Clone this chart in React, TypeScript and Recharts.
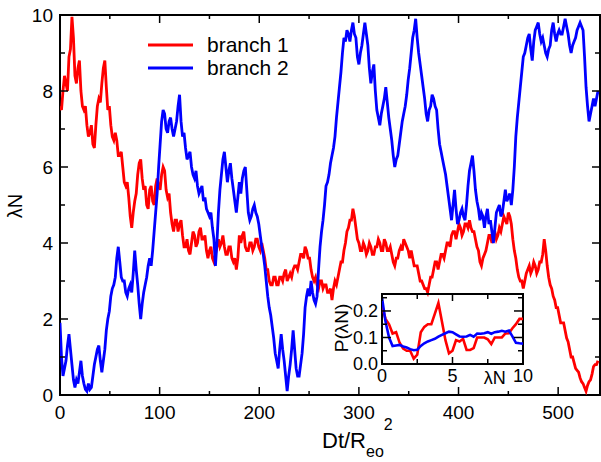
import React from 'react';
import { LineChart, Line, XAxis, YAxis, ReferenceArea, Legend } from 'recharts';

const FONT = '"Liberation Sans", Arial, Helvetica, sans-serif';

// Main panel: time in units of R_eo^2 / D (samples on the grid points)
const time = [
  0, 3, 6, 9, 12, 15, 18, 21, 24, 27, 30, 33, 36, 39, 42, 45, 48, 51, 54, 57,
  60, 63, 66, 69, 72, 75, 78, 81, 84, 87, 90, 93, 96, 99, 102, 105, 108, 111, 114, 117,
  120, 123, 126, 129, 132, 135, 138, 141, 144, 147, 150, 153, 156, 159, 162, 165, 168, 171, 174, 177,
  180, 183, 186, 189, 192, 195, 198, 201, 204, 207, 210, 213, 216, 219, 222, 225, 228, 231, 234, 237,
  240, 243, 246, 249, 252, 255, 258, 261, 264, 267, 270, 273, 276, 279, 282, 285, 288, 291, 294, 297,
  300, 303, 306, 309, 312, 315, 318, 321, 324, 327, 330, 333, 336, 339, 342, 345, 348, 351, 354, 357,
  360, 363, 366, 369, 372, 375, 378, 381, 384, 387, 390, 393, 396, 399, 402, 405, 408, 411, 414, 417,
  420, 423, 426, 429, 432, 435, 438, 441, 444, 447, 450, 453, 456, 459, 462, 465, 468, 471, 474, 477,
  480, 483, 486, 489, 492, 495, 498, 501, 504, 507, 510, 513, 516, 519, 522, 525, 528, 531, 534, 537,
  540,
];

const branch1 = [
  7.6, 8.0, 8.2, 8.9, 9.95, 8.4, 8.6, 8.0, 7.5, 7.1, 6.9, 6.6, 7.1, 7.8, 8.2, 8.8, 7.5, 7.1, 6.7, 6.7,
  6.3, 6.0, 5.5, 5.2, 4.4, 5.1, 5.8, 6.2, 5.4, 5.0, 5.4, 5.1, 5.5, 5.5, 5.8, 5.9, 5.2, 4.8, 4.3, 4.6,
  4.5, 4.2, 3.9, 3.8, 4.0, 4.2, 4.0, 4.4, 4.1, 3.8, 3.8, 3.6, 3.7, 4.1, 4.0, 3.9, 3.7, 3.9, 3.5, 3.3,
  4.2, 4.2, 3.9, 3.8, 4.0, 3.9, 4.1, 3.8, 3.8, 3.3, 3.0, 2.9, 3.1, 2.9, 3.1, 3.2, 3.0, 3.2, 3.3, 3.4,
  3.5, 3.7, 3.9, 3.6, 3.3, 3.0, 2.9, 3.0, 2.8, 2.9, 2.7, 2.5, 3.0, 3.1, 3.5, 3.8, 4.3, 4.6, 4.9, 4.4,
  4.0, 3.8, 3.9, 3.8, 3.9, 3.7, 3.9, 4.0, 3.8, 4.0, 3.8, 3.7, 3.4, 3.6, 3.9, 4.1, 3.9, 3.6, 3.6, 3.4,
  3.2, 3.0, 2.8, 2.7, 3.1, 3.3, 3.5, 3.5, 3.7, 3.8, 4.0, 4.2, 4.3, 4.3, 4.4, 4.3, 4.5, 4.6, 4.3, 4.1,
  3.8, 3.4, 3.7, 4.0, 4.2, 4.2, 4.1, 4.4, 4.5, 4.6, 4.8, 4.5, 3.8, 3.3, 3.0, 2.8, 3.2, 3.4, 3.3, 3.4,
  3.3, 3.5, 4.1, 3.4, 2.9, 2.6, 2.3, 2.1, 1.9, 1.7, 1.4, 1.0, 0.85, 0.65, 0.45, 0.3, 0.1, 0.35, 0.55, 0.8,
  0.9,
];

const branch2 = [
  1.9, 0.5, 0.9, 1.6, 0.8, 0.2, 0.3, 0.9, 0.3, 0.1, 0.15, 0.5, 1.0, 1.3, 0.6, 1.2, 2.0, 2.6, 2.9, 3.6,
  3.5, 3.0, 2.7, 2.8, 2.7, 3.8, 2.9, 2.0, 2.7, 3.1, 3.6, 3.8, 4.8, 6.0, 7.2, 7.4, 6.9, 7.3, 6.8, 7.2,
  7.9, 6.8, 6.5, 6.3, 6.0, 5.7, 5.5, 5.4, 5.1, 4.9, 4.7, 4.4, 3.4, 4.8, 5.8, 6.4, 5.6, 6.1, 5.4, 4.8,
  5.6, 5.7, 6.0, 4.8, 4.7, 5.0, 4.7, 4.2, 3.7, 3.0, 2.3, 1.8, 1.1, 0.7, 1.6, 0.9, 0.1, 0.8, 1.7, 0.7,
  0.5, 1.1, 2.3, 2.8, 3.0, 2.5, 2.6, 3.9, 4.6, 5.5, 5.8, 6.3, 6.8, 7.7, 8.5, 9.4, 9.6, 9.3, 9.8, 9.4,
  8.7, 9.2, 9.8, 9.2, 8.2, 8.7, 7.5, 7.1, 7.6, 8.1, 7.3, 6.7, 6.0, 6.3, 6.9, 7.4, 7.9, 8.6, 9.4, 9.9,
  9.0, 8.4, 7.8, 7.2, 7.6, 7.8, 7.5, 6.6, 6.2, 5.8, 5.2, 4.6, 5.4, 4.5, 4.8, 4.7, 5.0, 5.9, 6.3, 5.4,
  4.9, 4.8, 4.4, 4.9, 4.6, 4.0, 4.8, 5.0, 4.8, 5.4, 5.2, 5.0, 6.0, 7.3, 8.1, 8.9, 9.2, 9.5, 8.8, 9.6,
  9.8, 9.3, 9.2, 8.9, 9.2, 9.8, 9.3, 9.6, 9.5, 9.9, 9.5, 9.0, 9.3, 9.6, 9.8, 9.6, 8.1, 7.2, 7.6, 7.6,
  8.0,
];

// Samples halfway between the grid points (the fast fluctuations)
const timeMid = [
  1.5, 4.5, 7.5, 10.5, 13.5, 16.5, 19.5, 22.5, 25.5, 28.5, 31.5, 34.5, 37.5, 40.5, 43.5, 46.5, 49.5, 52.5, 55.5, 58.5,
  61.5, 64.5, 67.5, 70.5, 73.5, 76.5, 79.5, 82.5, 85.5, 88.5, 91.5, 94.5, 97.5, 100.5, 103.5, 106.5, 109.5, 112.5, 115.5, 118.5,
  121.5, 124.5, 127.5, 130.5, 133.5, 136.5, 139.5, 142.5, 145.5, 148.5, 151.5, 154.5, 157.5, 160.5, 163.5, 166.5, 169.5, 172.5, 175.5, 178.5,
  181.5, 184.5, 187.5, 190.5, 193.5, 196.5, 199.5, 202.5, 205.5, 208.5, 211.5, 214.5, 217.5, 220.5, 223.5, 226.5, 229.5, 232.5, 235.5, 238.5,
  241.5, 244.5, 247.5, 250.5, 253.5, 256.5, 259.5, 262.5, 265.5, 268.5, 271.5, 274.5, 277.5, 280.5, 283.5, 286.5, 289.5, 292.5, 295.5, 298.5,
  301.5, 304.5, 307.5, 310.5, 313.5, 316.5, 319.5, 322.5, 325.5, 328.5, 331.5, 334.5, 337.5, 340.5, 343.5, 346.5, 349.5, 352.5, 355.5, 358.5,
  361.5, 364.5, 367.5, 370.5, 373.5, 376.5, 379.5, 382.5, 385.5, 388.5, 391.5, 394.5, 397.5, 400.5, 403.5, 406.5, 409.5, 412.5, 415.5, 418.5,
  421.5, 424.5, 427.5, 430.5, 433.5, 436.5, 439.5, 442.5, 445.5, 448.5, 451.5, 454.5, 457.5, 460.5, 463.5, 466.5, 469.5, 472.5, 475.5, 478.5,
  481.5, 484.5, 487.5, 490.5, 493.5, 496.5, 499.5, 502.5, 505.5, 508.5, 511.5, 514.5, 517.5, 520.5, 523.5, 526.5, 529.5, 532.5, 535.5, 538.5,
];

const branch1Mid = [
  7.5, 8.4, 8.0, 9.1, 9.4, 8.2, 8.8, 7.6, 7.6, 6.8, 7.1, 6.5, 7.6, 7.7, 8.6, 8.1, 7.6, 6.8, 6.9, 6.3,
  6.4, 5.6, 5.6, 4.7, 4.8, 5.3, 6.1, 5.7, 5.5, 4.9, 5.5, 5.0, 5.7, 5.4, 6.0, 5.4, 5.3, 4.5, 4.6, 4.3,
  4.6, 3.9, 4.1, 3.7, 4.3, 3.9, 4.3, 4.1, 4.2, 3.6, 3.9, 3.5, 3.9, 3.9, 4.2, 3.7, 3.9, 3.6, 3.6, 3.6,
  4.0, 4.3, 3.8, 4.0, 3.8, 4.1, 3.9, 4.0, 3.6, 3.3, 2.9, 3.1, 2.9, 3.1, 3.0, 3.3, 3.1, 3.1, 3.4, 3.3,
  3.7, 3.6, 3.8, 3.6, 3.1, 3.1, 2.8, 3.0, 2.9, 2.7, 2.8, 2.8, 2.9, 3.3, 3.5, 4.0, 4.4, 4.6, 4.7, 4.1,
  3.8, 4.0, 3.7, 4.0, 3.7, 3.9, 4.1, 3.8, 4.1, 3.8, 3.9, 3.5, 3.6, 3.8, 3.8, 4.0, 3.8, 3.8, 3.4, 3.4,
  3.0, 2.9, 2.8, 2.9, 3.1, 3.5, 3.3, 3.7, 3.6, 4.0, 3.9, 4.3, 4.1, 4.5, 4.2, 4.5, 4.4, 4.4, 4.3, 3.9,
  3.5, 3.6, 3.8, 4.2, 4.0, 4.3, 4.2, 4.3, 4.7, 4.5, 4.7, 4.1, 3.6, 3.1, 3.0, 3.0, 3.3, 3.2, 3.5, 3.2,
  3.5, 3.7, 3.8, 3.1, 2.8, 2.5, 2.3, 1.9, 1.9, 1.5, 1.2, 1.0, 0.7, 0.6, 0.35, 0.2, 0.25, 0.4, 0.75, 0.8,
];

const branch2Mid = [
  1.0, 0.7, 1.3, 1.2, 0.4, 0.4, 0.6, 0.5, 0.15, 0.3, 0.2, 0.8, 1.2, 0.9, 0.9, 1.7, 2.2, 2.8, 3.1, 3.9,
  3.1, 3.0, 2.6, 2.9, 3.2, 3.3, 2.4, 2.4, 2.9, 3.4, 3.4, 4.3, 5.3, 6.6, 7.5, 7.0, 7.2, 7.0, 7.0, 7.6,
  7.2, 6.9, 6.2, 6.4, 5.8, 5.9, 5.3, 5.5, 5.2, 4.8, 4.8, 4.1, 4.0, 5.4, 6.2, 6.0, 5.9, 5.7, 5.1, 5.2,
  5.3, 5.9, 5.4, 4.6, 4.9, 4.8, 4.5, 3.9, 3.4, 2.6, 2.1, 1.5, 0.9, 1.2, 1.2, 0.5, 0.5, 1.2, 1.2, 0.5,
  0.8, 1.6, 2.6, 2.6, 2.7, 2.4, 3.3, 4.3, 5.0, 5.6, 6.1, 6.5, 7.3, 8.1, 9.0, 9.3, 9.5, 9.6, 9.5, 8.9,
  9.0, 9.5, 9.5, 8.6, 8.5, 8.0, 7.3, 7.4, 7.8, 7.7, 7.0, 6.3, 6.2, 6.6, 7.2, 7.6, 8.3, 9.0, 9.6, 9.4,
  8.7, 8.1, 7.4, 7.5, 7.9, 7.6, 7.0, 6.4, 6.0, 5.5, 4.9, 5.0, 4.9, 4.6, 4.9, 4.6, 5.5, 6.1, 5.9, 5.1,
  4.6, 4.7, 4.7, 4.5, 4.3, 4.4, 4.9, 4.7, 5.1, 5.1, 5.3, 5.4, 6.8, 7.7, 8.5, 9.0, 9.4, 9.1, 9.3, 9.7,
  9.5, 9.4, 9.0, 9.1, 9.6, 9.5, 9.5, 9.5, 9.7, 9.7, 9.2, 9.2, 9.4, 9.7, 9.7, 8.9, 7.6, 7.4, 7.8, 7.8,
];

const xTicks = [0, 50, 100, 150, 200, 250, 300, 350, 400, 450, 500];
const yTicks = [0, 1, 2, 3, 4, 5, 6, 7, 8, 9, 10];

// Inset: distribution of lambda N
const lambdaN = [
  0, 0.25, 0.5, 0.75, 1, 1.25, 1.5, 1.75, 2, 2.25, 2.5, 2.75, 3, 3.25, 3.5, 3.75, 4, 4.25, 4.5, 4.75,
  5, 5.25, 5.5, 5.75, 6, 6.25, 6.5, 6.75, 7, 7.25, 7.5, 7.75, 8, 8.25, 8.5, 8.75, 9, 9.25, 9.5, 9.75, 10,
];
const pBranch1 = [
  0.22, 0.17, 0.15, 0.115, 0.12, 0.08, 0.058, 0.05, 0.05, 0.02, 0.035, 0.12, 0.14, 0.15, 0.15, 0.19, 0.23, 0.16, 0.09, 0.04,
  0.05, 0.09, 0.085, 0.095, 0.053, 0.053, 0.06, 0.1, 0.1, 0.1, 0.093, 0.075, 0.1, 0.1, 0.1, 0.115, 0.116, 0.135, 0.15, 0.17, 0.17,
];
const pBranch2 = [
  0.25, 0.16, 0.1, 0.068, 0.07, 0.072, 0.066, 0.062, 0.056, 0.052, 0.054, 0.068, 0.078, 0.085, 0.09, 0.095, 0.103, 0.11, 0.116, 0.122,
  0.12, 0.112, 0.104, 0.103, 0.104, 0.11, 0.103, 0.115, 0.114, 0.116, 0.12, 0.114, 0.12, 0.122, 0.125, 0.122, 0.126, 0.104, 0.08, 0.078, 0.077,
];
const insetXTicks = [0, 2.5, 5, 7.5, 10];
const insetYTicks = [0, 0.05, 0.1, 0.15, 0.2, 0.25];

const RED = '#ff0000';
const BLUE = '#0000ff';

const mainData: { t: number; branch1: number; branch2: number }[] = [];
time.forEach((t, i) => {
  mainData.push({ t, branch1: branch1[i], branch2: branch2[i] });
  if (i < timeMid.length) {
    mainData.push({ t: timeMid[i], branch1: branch1Mid[i], branch2: branch2Mid[i] });
  }
});
const insetData = lambdaN.map((l, i) => ({ l, p1: pBranch1[i], p2: pBranch2[i] }));

// main plot box size (px)
const PLOT_W = 540;
const PLOT_H = 380;
// inset plot box size (px)
const IN_W = 141;
const IN_H = 70;

const MainXTick = (props: any) => {
  const { x, y, payload } = props;
  const v = payload.value;
  const major = v % 100 === 0;
  const len = major ? 8 : 4;
  return (
    <g>
      <line x1={x} y1={y} x2={x} y2={y - len} stroke="#000" strokeWidth={1.5} />
      <line x1={x} y1={y - PLOT_H} x2={x} y2={y - PLOT_H + len} stroke="#000" strokeWidth={1.5} />
      {major && (
        <text x={x} y={y + 24} textAnchor="middle" fontSize={19} fontFamily={FONT} fill="#000">
          {v}
        </text>
      )}
    </g>
  );
};

const MainYTick = (props: any) => {
  const { x, y, payload } = props;
  const v = payload.value;
  const major = v % 2 === 0;
  const len = major ? 8 : 5;
  return (
    <g>
      <line x1={x} y1={y} x2={x + len} y2={y} stroke="#000" strokeWidth={1.5} />
      <line x1={x + PLOT_W} y1={y} x2={x + PLOT_W - len} y2={y} stroke="#000" strokeWidth={1.5} />
      {major && (
        <text x={x - 7} y={y} dy="0.35em" textAnchor="end" fontSize={19} fontFamily={FONT} fill="#000">
          {v}
        </text>
      )}
    </g>
  );
};

const InsetXTick = (props: any) => {
  const { x, y, payload } = props;
  const v = payload.value;
  const major = v % 5 === 0;
  const len = major ? 7 : 5;
  return (
    <g>
      <line x1={x} y1={y} x2={x} y2={y - len} stroke="#000" strokeWidth={1.5} />
      <line x1={x} y1={y - IN_H} x2={x} y2={y - IN_H + len} stroke="#000" strokeWidth={1.5} />
      {major && (
        <text x={x} y={y + 18} textAnchor="middle" fontSize={18} fontFamily={FONT} fill="#000">
          {v}
        </text>
      )}
    </g>
  );
};

const InsetYTick = (props: any) => {
  const { x, y, payload } = props;
  const v = payload.value;
  const major = Math.round(v * 100) % 10 === 0;
  const len = major ? 9 : 5;
  return (
    <g>
      <line x1={x} y1={y} x2={x + len} y2={y} stroke="#000" strokeWidth={1.5} />
      <line x1={x + IN_W} y1={y} x2={x + IN_W - len} y2={y} stroke="#000" strokeWidth={1.5} />
      {major && v < 0.25 && (
        <text x={x - 4} y={y} dy="0.35em" textAnchor="end" fontSize={18} fontFamily={FONT} fill="#000">
          {v.toFixed(1)}
        </text>
      )}
    </g>
  );
};

const MainYTitle = (props: any) => {
  const vb = props.viewBox || { x: 0, y: 15, width: 60, height: PLOT_H };
  const cx = vb.x + 15;
  const cy = vb.y + vb.height / 2 + 1;
  return (
    <text x={cx} y={cy} transform={`rotate(-90 ${cx} ${cy})`} textAnchor="middle" dy="0.35em" fontSize={20} fontFamily={FONT} fill="#000">
      λN
    </text>
  );
};

const MainXTitle = (props: any) => {
  const vb = props.viewBox || { x: 60, y: 395, width: PLOT_W, height: 67 };
  const x0 = vb.x + 262;
  const y0 = vb.y + 53;
  return (
    <text x={x0} y={y0} fontSize={22} fontFamily={FONT} fill="#000">
      Dt/R
      <tspan dy={9} fontSize={16}>eo</tspan>
      <tspan dy={-27} fontSize={16}>2</tspan>
    </text>
  );
};

const InsetYTitle = (props: any) => {
  const vb = props.viewBox || { x: 0, y: 9, width: 57, height: IN_H };
  const cx = vb.x + 16;
  const cy = vb.y + vb.height / 2 - 1;
  return (
    <text x={cx} y={cy} transform={`rotate(-90 ${cx} ${cy})`} textAnchor="middle" dy="0.35em" fontSize={19} fontFamily={FONT} fill="#000">
      P(λN)
    </text>
  );
};

const InsetXTitle = (props: any) => {
  const vb = props.viewBox || { x: 57, y: 79, width: IN_W, height: 33 };
  return (
    <text x={vb.x + vb.width * 0.8} y={vb.y + 20} textAnchor="middle" fontSize={18} fontFamily={FONT} fill="#000">
      λN
    </text>
  );
};

const legendItems = [
  { name: 'branch 1', color: RED },
  { name: 'branch 2', color: BLUE },
];

const LegendBox = () => (
  <div style={{ fontFamily: FONT, fontSize: 21, color: '#000' }}>
    {legendItems.map((it) => (
      <div key={it.name} style={{ display: 'flex', alignItems: 'center', height: 23 }}>
        <svg width={45} height={4} style={{ display: 'block' }}>
          <line x1={0} y1={2} x2={45} y2={2} stroke={it.color} strokeWidth={3} />
        </svg>
        <span style={{ marginLeft: 14, lineHeight: '23px', whiteSpace: 'nowrap' }}>{it.name}</span>
      </div>
    ))}
  </div>
);

export default function App() {
  return (
    <div style={{ position: 'absolute', left: 0, top: 0, width: 601, height: 462, background: '#fff' }}>
      <LineChart width={601} height={462} data={mainData} margin={{ top: 15, right: 1, bottom: 0, left: 0 }}>
        <XAxis
          dataKey="t"
          type="number"
          domain={[0, 542]}
          allowDataOverflow
          ticks={xTicks}
          interval={0}
          height={67}
          tickSize={0}
          tickMargin={0}
          axisLine={false}
          tickLine={false}
          tick={<MainXTick />}
          label={<MainXTitle />}
        />
        <YAxis
          type="number"
          domain={[0, 10]}
          allowDataOverflow
          ticks={yTicks}
          interval={0}
          width={60}
          tickSize={0}
          tickMargin={0}
          axisLine={false}
          tickLine={false}
          tick={<MainYTick />}
          label={<MainYTitle />}
        />
        <ReferenceArea x1={0} x2={542} y1={0} y2={10} fill="none" stroke="#000" strokeWidth={2} />
        <Legend
          layout="vertical"
          align="center"
          verticalAlign="middle"
          wrapperStyle={{ left: 148, top: 33, width: 170 }}
          content={<LegendBox />}
        />
        <Line type="linear" dataKey="branch1" name="branch 1" stroke={RED} strokeWidth={2.8} strokeLinejoin="miter" dot={false} isAnimationActive={false} />
        <Line type="linear" dataKey="branch2" name="branch 2" stroke={BLUE} strokeWidth={2.8} strokeLinejoin="miter" dot={false} isAnimationActive={false} />
      </LineChart>

      <div style={{ position: 'absolute', left: 325, top: 285 }}>
        <LineChart width={215} height={112} data={insetData} margin={{ top: 9, right: 17, bottom: 0, left: 0 }}>
          <XAxis
            dataKey="l"
            type="number"
            domain={[0, 10]}
            allowDataOverflow
            ticks={insetXTicks}
            interval={0}
            height={33}
            tickSize={0}
            tickMargin={0}
            axisLine={false}
            tickLine={false}
            tick={<InsetXTick />}
            label={<InsetXTitle />}
          />
          <YAxis
            type="number"
            domain={[0, 0.264]}
            allowDataOverflow
            ticks={insetYTicks}
            interval={0}
            width={57}
            tickSize={0}
            tickMargin={0}
            axisLine={false}
            tickLine={false}
            tick={<InsetYTick />}
            label={<InsetYTitle />}
          />
          <ReferenceArea x1={0} x2={10} y1={0} y2={0.264} fill="none" stroke="#000" strokeWidth={2} />
          <Line type="linear" dataKey="p1" stroke={RED} strokeWidth={2.6} dot={false} isAnimationActive={false} />
          <Line type="linear" dataKey="p2" stroke={BLUE} strokeWidth={2.6} dot={false} isAnimationActive={false} />
        </LineChart>
      </div>
    </div>
  );
}
